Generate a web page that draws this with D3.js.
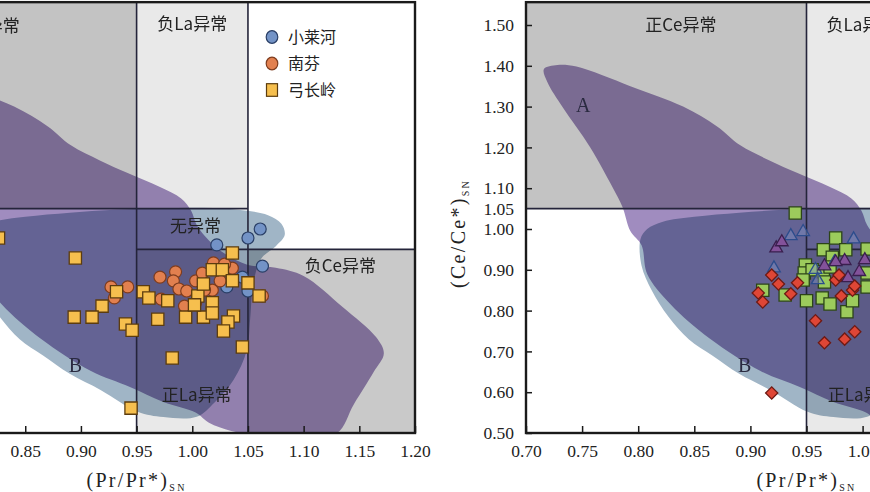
<!DOCTYPE html>
<html><head><meta charset="utf-8">
<script src="https://cdn.jsdelivr.net/npm/d3@7"></script>
<style>body{margin:0;background:#fff}svg{display:block}</style>
</head><body>
<script>
// ---------------- data ----------------
const xTickValues = [0.70,0.75,0.80,0.85,0.90,0.95,1.00,1.05,1.10,1.15,1.20];
const yTickValues = [0.50,0.60,0.70,0.80,0.90,1.00,1.05,1.10,1.20,1.30,1.40,1.50];
const yTickMarks  = [0.50,0.60,0.70,0.80,0.90,1.00,1.10,1.20,1.30,1.40,1.50];

// field A and field B outlines (Pr/Pr*, Ce/Ce*)
const fieldA = [[0.716,1.392],[0.728,1.402],[0.745,1.398],[0.793,1.350],[0.840,1.300],[0.870,1.252],[0.891,1.205],[0.917,1.168],[0.942,1.137],[0.971,1.103],[0.990,1.075],[0.999,1.045],[1.004,1.010],[1.015,0.972],[1.030,0.938],[1.050,0.912],[1.075,0.905],[1.100,0.885],[1.135,0.809],[1.165,0.735],[1.172,0.695],[1.163,0.650],[1.145,0.570],[1.130,0.500],[1.100,0.490],[1.060,0.494],[1.035,0.505],[1.015,0.525],[1.003,0.550],[0.974,0.576],[0.944,0.613],[0.909,0.652],[0.864,0.731],[0.829,0.815],[0.808,0.890],[0.803,0.960],[0.793,0.995],[0.786,1.054],[0.777,1.103],[0.757,1.201],[0.733,1.297],[0.719,1.360]];
const fieldB = [[0.802,0.975],[0.808,1.000],[0.822,1.018],[0.850,1.030],[0.890,1.040],[0.930,1.047],[0.970,1.050],[1.010,1.052],[1.045,1.046],[1.068,1.034],[1.080,1.013],[1.083,0.985],[1.075,0.958],[1.062,0.928],[1.055,0.870],[1.052,0.780],[1.049,0.703],[1.037,0.630],[1.020,0.575],[1.004,0.540],[0.974,0.539],[0.951,0.552],[0.918,0.605],[0.890,0.645],[0.866,0.690],[0.845,0.730],[0.827,0.785],[0.812,0.850],[0.803,0.910]];

// anomaly field boundaries
const fieldRects = [
  {name:"posCe", x:[0.70,0.95], y:[1.05,1.556], tone:"dark"},
  {name:"negLa", x:[0.95,1.05], y:[1.05,1.556], tone:"light"},
  {name:"negCe", x:[1.05,1.20], y:[0.50,0.95], tone:"dark2"},
  {name:"posLa", x:[0.95,1.05], y:[0.50,0.95], tone:"light"}
];
const fieldLines = [
  {x:[0.95,0.95], y:[0.50,1.556]},
  {x:[1.05,1.05], y:[0.50,1.556]},
  {x:[0.70,1.05], y:[1.05,1.05]},
  {x:[0.95,1.20], y:[0.95,0.95]}
];

// left panel series
const xiaolaiheX = [1.061,1.050,1.022,1.063,1.045,1.031,1.050];
const xiaolaiheY = [1.000,0.978,0.961,0.909,0.882,0.858,0.848];
const nanfenX = [0.927,0.930,0.942,0.971,0.985,0.983,0.988,0.995,0.972,1.003,1.009,1.019,0.993,1.018,1.036,1.025,1.003,1.063,1.018,1.029,1.011];
const nanfenY = [0.858,0.831,0.858,0.882,0.895,0.873,0.853,0.848,0.828,0.873,0.892,0.917,0.811,0.850,0.904,0.873,0.819,0.836,0.801,0.914,0.850];
const gongchanglingX = [0.826,0.895,0.932,0.919,0.894,0.910,0.940,0.946,0.956,0.961,0.969,0.978,0.982,0.945,0.994,1.005,1.010,1.010,1.018,1.018,1.027,1.036,1.036,1.037,1.032,1.028,1.045,1.050,1.060,1.002,1.018];
const gongchanglingY = [0.978,0.929,0.846,0.811,0.784,0.784,0.767,0.752,0.846,0.831,0.779,0.824,0.684,0.561,0.784,0.836,0.865,0.784,0.900,0.819,0.900,0.941,0.873,0.787,0.772,0.750,0.711,0.868,0.836,0.814,0.794];

// right panel series
const greenX = [0.940,0.965,0.976,0.985,0.973,0.949,0.948,0.955,0.965,0.971,0.911,0.931,0.950,0.964,0.971,0.986,0.991,1.004,1.004,0.947,1.004,0.966];
const greenY = [1.039,0.949,0.978,0.949,0.931,0.912,0.892,0.900,0.895,0.907,0.850,0.838,0.824,0.831,0.816,0.797,0.824,0.858,0.951,0.875,0.892,0.870];
const blueTriX = [0.936,0.947,0.921,0.958,0.960,0.992,0.975];
const blueTriY = [0.983,0.993,0.904,0.900,0.875,0.975,0.919];
const purpleTriX = [0.923,0.928,0.966,0.984,0.987,0.997,1.002,0.976];
const purpleTriY = [0.953,0.968,0.909,0.922,0.880,0.895,0.924,0.919];
const redX = [0.907,0.911,0.919,0.925,0.936,0.942,0.958,0.966,0.981,0.976,0.979,0.984,0.993,0.991,0.993,0.919];
const redY = [0.843,0.821,0.887,0.865,0.841,0.868,0.775,0.721,0.836,0.875,0.887,0.730,0.748,0.850,0.860,0.598];

const legendNames = ["小莱河","南芬","弓长岭"];

const leftLabels = [
  {t:"正Ce异常", x:0.813, y:1.498},
  {t:"负La异常", x:1.000, y:1.502},
  {t:"无异常",   x:1.003, y:1.007},
  {t:"负Ce异常", x:1.133, y:0.909},
  {t:"正La异常", x:1.004, y:0.593}
];
const rightLabels = [
  {t:"正Ce异常", x:0.838, y:1.500},
  {t:"负La异常", x:0.999, y:1.500},
  {t:"正La异常", x:1.000, y:0.593}
];
const leftFieldNames = [{t:"B", x:0.895, y:0.667}];
const rightFieldNames = [{t:"A", x:0.751, y:1.304},{t:"B", x:0.895, y:0.667}];

// ---------------- drawing ----------------
const W = 870, H = 492;
const svg = d3.select("body").append("svg").attr("width", W).attr("height", H);
const serif = "'Liberation Serif','Times New Roman',serif";
const cjk = "'Noto Sans CJK SC','Noto Sans',sans-serif";
const toneFill = {dark:"#c3c3c3", light:"#e9e9e9", dark2:"#c9c9c9"};
const yTopVal = 1.556;

function zip(xs, ys){ return xs.map((v,i)=>[v, ys[i]]); }

function drawPanel(cfg){
  const x = d3.scaleLinear().domain([0.70,1.20]).range([cfg.x0, cfg.x1]);
  const y = d3.scaleLinear().domain([0.50,1.50]).range([433,25]);
  const g = svg.append("g");
  const clipId = "clip" + cfg.id;
  g.append("clipPath").attr("id", clipId).append("rect")
    .attr("x", x(0.70)).attr("y", y(yTopVal))
    .attr("width", x(1.20)-x(0.70)).attr("height", y(0.50)-y(yTopVal));
  const inner = g.append("g").attr("clip-path", `url(#${clipId})`).style("isolation","isolate");
  inner.append("rect").attr("x", x(0.70)).attr("y", y(yTopVal))
    .attr("width", x(1.20)-x(0.70)).attr("height", y(0.50)-y(yTopVal)).attr("fill","#fff");
  inner.selectAll("rect.field").data(fieldRects).join("rect").attr("class","field")
    .attr("x", d=>x(d.x[0])).attr("width", d=>x(d.x[1])-x(d.x[0]))
    .attr("y", d=>y(d.y[1])).attr("height", d=>y(d.y[0])-y(d.y[1]))
    .attr("fill", d=>toneFill[d.tone]);
  const line = d3.line().x(d=>x(d[0])).y(d=>y(d[1])).curve(d3.curveCatmullRomClosed.alpha(0.5));
  inner.append("path").attr("d", line(fieldA)).attr("fill","#a08cbf").style("mix-blend-mode","multiply");
  inner.append("path").attr("d", line(fieldB)).attr("fill","#a0b5c6").style("mix-blend-mode","multiply");
  inner.selectAll("line.fl").data(fieldLines).join("line").attr("class","fl")
    .attr("x1", d=>x(d.x[0])).attr("x2", d=>x(d.x[1]))
    .attr("y1", d=>y(d.y[0])).attr("y2", d=>y(d.y[1]))
    .attr("stroke","#24243a").attr("stroke-width",1.6);
  // labels
  inner.selectAll("text.rl").data(cfg.labels).join("text").attr("class","rl")
    .attr("x", d=>x(d.x)).attr("y", d=>y(d.y)).attr("dy","0.36em")
    .attr("text-anchor","middle").attr("font-family", cjk).attr("font-size",17)
    .attr("fill","#222").text(d=>d.t);
  inner.selectAll("text.fn").data(cfg.fieldNames).join("text").attr("class","fn")
    .attr("x", d=>x(d.x)).attr("y", d=>y(d.y)).attr("dy","0.36em")
    .attr("text-anchor","middle").attr("font-family", serif).attr("font-size",20)
    .attr("fill","#2a2a40").text(d=>d.t);
  // points
  cfg.drawPoints(inner, x, y);
  // frame
  g.append("rect").attr("x", x(0.70)).attr("y", y(yTopVal))
    .attr("width", x(1.20)-x(0.70)).attr("height", y(0.50)-y(yTopVal))
    .attr("fill","none").attr("stroke","#1a1a1a").attr("stroke-width",2.4);
  // axes
  const xAxis = d3.axisBottom(x).tickValues(xTickValues).tickFormat(d3.format(".2f"))
    .tickSizeInner(-7).tickSizeOuter(0).tickPadding(12);
  const gx = g.append("g").attr("transform", `translate(0,${y(0.50)})`).call(xAxis);
  const yAxis = d3.axisLeft(y).tickValues(yTickValues).tickFormat(d3.format(".2f"))
    .tickSizeInner(-6).tickSizeOuter(0).tickPadding(12);
  const gy = g.append("g").attr("transform", `translate(${x(0.70)},0)`).call(yAxis);
  [gx, gy].forEach(a=>{
    a.select(".domain").remove();
    a.selectAll("text").attr("font-family", serif).attr("font-size",17.5).attr("fill","#222");
    a.selectAll("line").attr("stroke","#1a1a1a").attr("stroke-width",1.5);
  });
  gy.selectAll(".tick").filter(d=>!yTickMarks.includes(d)).select("line").remove();
  // axis titles
  const xt = g.append("text").attr("x", (x(0.70)+x(1.20))/2).attr("y",487)
    .attr("text-anchor","middle").attr("font-family", serif).attr("font-size",20)
    .attr("letter-spacing",2.3).attr("fill","#222");
  xt.append("tspan").text("(Pr/Pr*)");
  xt.append("tspan").attr("font-size",10).attr("dy",4).text("SN");
  const yt = g.append("text").attr("transform", `translate(${x(0.70)-61},288) rotate(-90)`)
    .attr("font-family", serif).attr("font-size",20).attr("letter-spacing",2.3).attr("fill","#222");
  yt.append("tspan").text("(Ce/Ce*)");
  yt.append("tspan").attr("font-size",10).attr("dy",4).text("SN");
  return {x, y, g};
}

function circles(sel, pts, fill, stroke){
  sel.append("g").selectAll("circle").data(pts).join("circle")
    .attr("cx", d=>d.px).attr("cy", d=>d.py).attr("r",6)
    .attr("fill", fill).attr("stroke", stroke).attr("stroke-width",1.2);
}
function symbols(sel, pts, type, size, rot, fill, stroke, fillOp){
  const s = d3.symbol().type(type).size(size);
  sel.append("g").selectAll("path").data(pts).join("path")
    .attr("transform", d=>`translate(${d.px},${d.py}) rotate(${rot})`)
    .attr("d", s()).attr("fill", fill).attr("fill-opacity", fillOp)
    .attr("stroke", stroke).attr("stroke-width",1.3);
}
function proj(xs, ys, x, y){ return zip(xs, ys).map(d=>({px:x(d[0]), py:y(d[1])})); }

const left = drawPanel({
  id:"L", x0:-141.8, x1:415, labels:leftLabels, fieldNames:leftFieldNames,
  drawPoints:(sel,x,y)=>{
    circles(sel, proj(xiaolaiheX, xiaolaiheY, x, y), "#7393c6", "#2a3f66");
    circles(sel, proj(nanfenX, nanfenY, x, y), "#e2804f", "#7e3c1e");
    symbols(sel, proj(gongchanglingX, gongchanglingY, x, y), d3.symbolSquare, 150, 0, "#f6bf4e", "#5c3c0e", 1);
  }
});

const right = drawPanel({
  id:"R", x0:526, x1:1087, labels:rightLabels, fieldNames:rightFieldNames,
  drawPoints:(sel,x,y)=>{
    symbols(sel, proj(greenX, greenY, x, y), d3.symbolSquare, 150, 0, "#9ccb5c", "#2c4418", 1);
    symbols(sel, proj(blueTriX, blueTriY, x, y), d3.symbolTriangle, 70, 0, "#7f93c4", "#2c4c8c", 0.45);
    symbols(sel, proj(purpleTriX, purpleTriY, x, y), d3.symbolTriangle, 70, 0, "#83529a", "#3a1f4e", 1);
    symbols(sel, proj(redX, redY, x, y), d3.symbolSquare, 75, 45, "#df4636", "#6e1a14", 1);
  }
});

// legend (left panel)
const legend = svg.append("g").attr("transform","translate(272,37)");
const legendRows = legend.selectAll("g").data(legendNames).join("g")
  .attr("transform",(d,i)=>`translate(0,${i*26.5})`);
legendRows.each(function(d,i){
  const r = d3.select(this);
  if (i < 2) {
    r.append("ellipse").attr("rx",5.8).attr("ry",6.4)
      .attr("fill", i===0 ? "#7393c6" : "#e2804f")
      .attr("stroke", i===0 ? "#2a3f66" : "#7e3c1e").attr("stroke-width",1.2);
  } else {
    r.append("rect").attr("x",-5.5).attr("y",-6.3).attr("width",11).attr("height",12.6)
      .attr("fill","#f6bf4e").attr("stroke","#5c3c0e").attr("stroke-width",1.2);
  }
  r.append("text").attr("x",16).attr("dy","0.36em").attr("font-family",cjk)
    .attr("font-size",16).attr("fill","#222").text(d);
});
</script>
</body></html>
